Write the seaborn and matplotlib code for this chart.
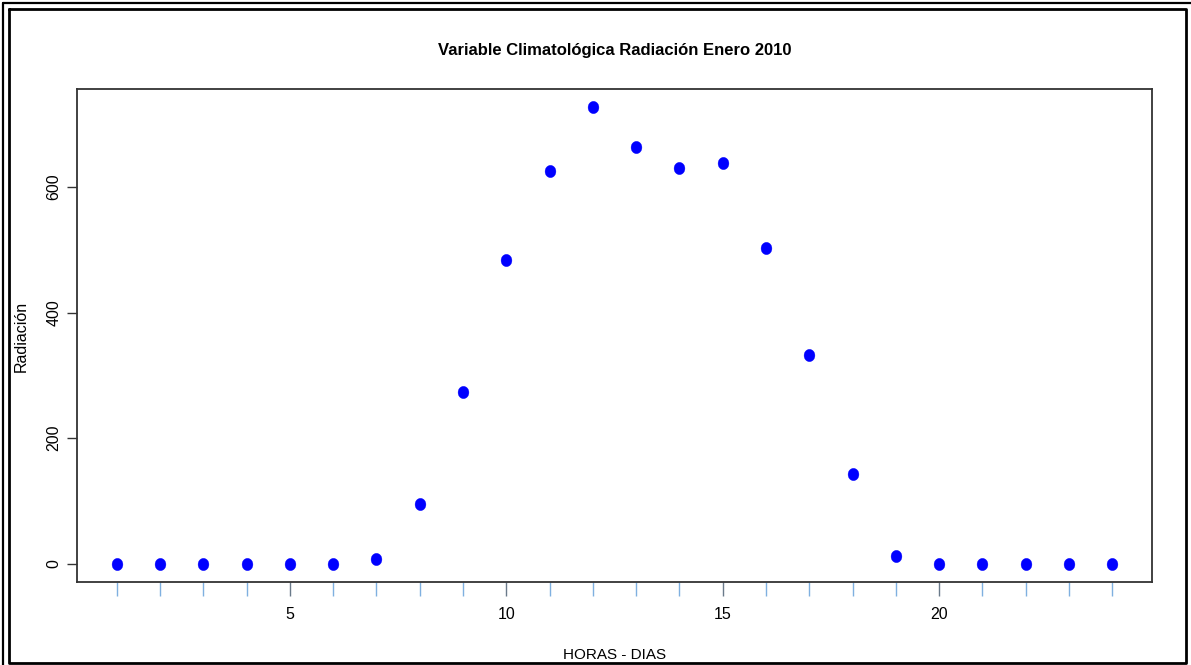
import matplotlib
matplotlib.use("Agg")
import matplotlib.pyplot as plt
from matplotlib.lines import Line2D
from matplotlib.path import Path
from matplotlib.transforms import Affine2D
import seaborn as sns
import pandas as pd

# Hourly radiation, January 2010
horas = list(range(1, 25))
radiacion = [0, 0, 0, 0, 0, 0, 8, 95, 274, 484, 626, 727,
             663, 631, 639, 503, 333, 143, 13, 0, 0, 0, 0, 0]
xtick_labels = [5, 10, 15, 20]
ytick_labels = [0, 200, 400, 600]

titulo = "Variable Climatológica Radiación Enero 2010"
xlabel = "HORAS - DIAS"
ylabel = "Radiación"

df = pd.DataFrame({"hora": horas, "radiacion": radiacion})

sns.set_theme(style="white")
plt.rcParams["font.family"] = ["Liberation Sans", "DejaVu Sans"]
plt.rcParams["text.color"] = "black"
plt.rcParams["xtick.labelcolor"] = "black"
plt.rcParams["ytick.labelcolor"] = "black"

W, H = 1191, 665
fig = plt.figure(figsize=(W / 100, H / 100), dpi=100)
ax = fig.add_axes([77 / W, 1 - 582 / H, (1152 - 77) / W, (582 - 89) / H])

# slightly tall filled dot
dot = Path.unit_circle().transformed(Affine2D().scale(0.88, 1.0))

sns.scatterplot(data=df, x="hora", y="radiacion", ax=ax, color="#0000ff",
                marker=dot, s=78, edgecolor="#0000ff", linewidth=0.3,
                legend=False)

# R-style 4% padding around the data range
xmin, xmax = min(horas), max(horas)
ymin, ymax = min(radiacion), max(radiacion)
ax.set_xlim(xmin - 0.04 * (xmax - xmin), xmax + 0.04 * (xmax - xmin))
ax.set_ylim(ymin - 0.04 * (ymax - ymin), ymax + 0.04 * (ymax - ymin))

for sp in ax.spines.values():
    sp.set_visible(True)
    sp.set_color("#333333")
    sp.set_linewidth(1.3)

# minor ticks at every hour in light blue, labelled ticks darker
ax.set_xticks(xtick_labels)
ax.set_xticklabels([str(v) for v in xtick_labels])
ax.set_xticks(horas, minor=True)
ax.tick_params(axis="x", which="major", direction="out", length=10, width=1.0,
               color="#6a7a8a", labelsize=11.5, pad=8, bottom=True,
               labelcolor="black")
ax.tick_params(axis="x", which="minor", direction="out", length=10, width=1.0,
               color="#7fb0e0", bottom=True)

ax.set_yticks(ytick_labels)
ax.set_yticklabels([str(v) for v in ytick_labels], rotation=90, va="center")
ax.tick_params(axis="y", which="major", direction="out", length=7, width=1.0,
               color="#333333", labelsize=11.5, pad=4, left=True,
               labelcolor="black")

ax.set_xlabel("")
ax.set_ylabel("")
fig.text((77 + 1152) / 2 / W, 1 - 655 / H, xlabel, ha="center", va="center",
         fontsize=11, color="black")
fig.text(21 / W, 1 - 336 / H, ylabel, ha="center", va="center",
         rotation=90, fontsize=11.5, color="black")
fig.text((77 + 1152) / 2 / W, 1 - 51 / H, titulo, ha="center", va="center",
         fontsize=12, fontweight="bold", color="black")

# double frame around the figure
def frame_line(xs, ys, lw):
    fig.add_artist(Line2D([x / W for x in xs], [1 - y / H for y in ys],
                          color="black", linewidth=lw,
                          transform=fig.transFigure))

frame_line([3, 3], [3, H + 5], 1.6)
frame_line([3, W + 5], [3, 3], 1.6)
frame_line([9, 9, 1186, 1186, 9], [9, 663, 663, 9, 9], 2.0)

fig.savefig("out.png", dpi=100)
